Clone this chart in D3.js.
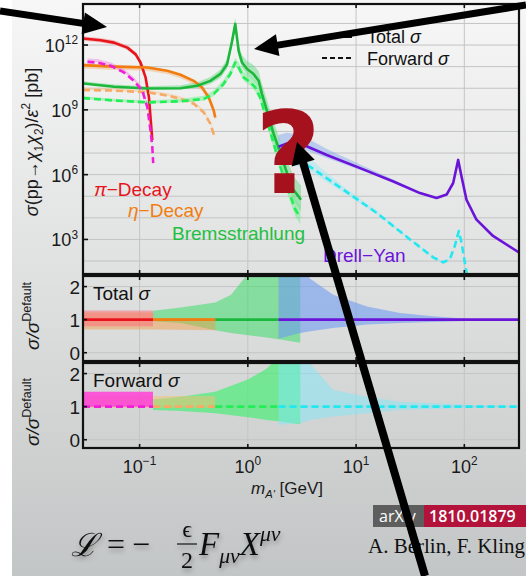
<!DOCTYPE html>
<html>
<head>
<meta charset="utf-8">
<script src="https://cdn.jsdelivr.net/npm/d3@7"></script>
<style>
  body { margin: 0; background: #fff; }
  svg { display: block; }
</style>
</head>
<body>
<svg id="chart" width="526" height="576"></svg>
<script>
// ---- data (mass in GeV, sigma/eps^2 in pb) ----
const piTotMass = [0.03, 0.0437, 0.058, 0.077, 0.092, 0.102, 0.1135, 0.122, 0.126, 0.131];
const piTotSigma = [2.0e12, 1.66e12, 1.29e12, 7.6e11, 3.7e11, 1.55e11, 3.2e10, 3.8e9, 4.7e8, 4.0e7];
const piFwdMass = [0.033, 0.0407, 0.054, 0.0717, 0.0886, 0.106, 0.118, 0.126, 0.131, 0.1336];
const piFwdSigma = [1.66e11, 1.55e11, 1.1e11, 5.4e10, 2.2e10, 7.8e9, 1.3e9, 1.15e8, 1.95e7, 3.4e6];

const etaTotMass = [0.03, 0.058, 0.118, 0.18, 0.239, 0.316, 0.378, 0.435, 0.484, 0.50];
const etaTotSigma = [1.17e11, 1.0e11, 9.1e10, 6.5e10, 4.2e10, 2.2e10, 1.1e10, 3.8e9, 9.3e8, 4.4e8];
const etaFwdMass = [0.03, 0.058, 0.118, 0.18, 0.239, 0.316, 0.39, 0.45, 0.493];
const etaFwdSigma = [8.3e9, 7.8e9, 6.5e9, 4.6e9, 3.2e9, 1.9e9, 7.8e8, 2.3e8, 5.6e7];

const bremTotMass = [0.03, 0.058, 0.118, 0.239, 0.34, 0.451, 0.558, 0.643, 0.715, 0.765, 0.823,
                     0.885, 0.984, 1.13, 1.26, 1.35, 1.5, 1.73, 2.0, 2.3, 2.64, 3.1];
const bremTotSigma = [1.66e10, 1.17e10, 9.8e9, 1.0e10, 1.3e10, 2.2e10, 4.6e10, 1.3e11, 1.5e12, 9.5e12, 5.2e11,
                      1.55e11, 7.8e10, 4.6e10, 2.2e10, 5.5e9, 9.3e8, 7.9e7, 9.8e6, 1.2e6, 2.0e5, 6.9e4];
const bremFwdMass = [0.03, 0.058, 0.118, 0.239, 0.392, 0.484, 0.598, 0.69, 0.765, 0.823,
                     0.914, 1.055, 1.17, 1.3, 1.5, 1.73, 2.0, 2.3, 2.74, 3.05];
const bremFwdSigma = [3.5e9, 2.7e9, 2.2e9, 2.5e9, 3.2e9, 5.5e9, 1.6e10, 4.6e10, 1.55e11, 9.1e10,
                      3.2e10, 1.9e10, 1.1e10, 3.8e9, 3.2e8, 2.8e7, 2.3e6, 2.8e5, 2.5e4, 1.05e4];

const dyTotMass = [1.92, 2.3, 3.05, 5.37, 10.9, 22.1, 38.9, 55.4, 68.6, 78.9, 87.7, 94.2, 104.7, 129, 184, 320];
const dyTotSigma = [1.95e7, 2.75e7, 2.75e7, 8.1e6, 2.0e6, 4.8e5, 1.4e5, 8.3e4, 1.2e5, 4.1e5, 4.8e6, 8.1e5, 6.9e4, 8.5e3, 1.45e3, 250];
const dyFwdMass = [1.92, 2.3, 2.64, 3.77, 7.64, 15.5, 31.5, 51.5, 63.8, 73.5, 81.7, 88.9, 94.2, 101, 106];
const dyFwdSigma = [1.4e7, 6.8e6, 5.8e6, 2.3e6, 2.0e5, 1.7e4, 1.0e3, 148, 87, 123, 500, 2450, 720, 87, 22];

// ratio sigma / sigma_default uncertainty bands
const piBandTotMass = [0.03, 0.133];
const piBandTotLo = [0.8, 0.8];
const piBandTotHi = [1.28, 1.28];
const etaBandTotMass = [0.03, 0.133, 0.135, 0.5];
const etaBandTotLo = [0.7, 0.7, 0.7, 0.68];
const etaBandTotHi = [1.22, 1.22, 1.05, 1.05];
const bremBandTotMass = [0.133, 0.24, 0.5, 0.7, 0.9, 1.2, 1.5, 2.0, 3.05];
const bremBandTotLo = [0.95, 0.9, 0.68, 0.6, 0.55, 0.5, 0.46, 0.4, 0.3];
const bremBandTotHi = [1.27, 1.37, 1.52, 1.75, 2.2, 2.7, 3.2, 3.8, 4.5];
const dyBandTotMass = [1.92, 3.05, 3.77, 6.14, 12.6, 25.4, 51, 105, 320];
const dyBandTotLo = [0.42, 0.6, 0.65, 0.75, 0.85, 0.9, 0.93, 0.96, 0.99];
const dyBandTotHi = [3.5, 2.6, 2.24, 1.75, 1.4, 1.2, 1.1, 1.03, 1.0];

const piBandFwdMass = [0.03, 0.133];
const piBandFwdLo = [1.0, 1.0];
const piBandFwdHi = [1.45, 1.45];
const etaBandFwdMass = [0.03, 0.5];
const etaBandFwdLo = [0.97, 0.97];
const etaBandFwdHi = [1.32, 1.32];
const bremBandFwdMass = [0.133, 0.24, 0.5, 1.0, 1.5, 2.0, 3.05];
const bremBandFwdLo = [0.9, 0.87, 0.8, 0.68, 0.6, 0.55, 0.47];
const bremBandFwdHi = [1.22, 1.3, 1.45, 1.82, 2.15, 2.6, 3.2];
const dyBandFwdMass = [1.92, 3.05, 3.77, 6.14, 12.6, 25.4, 51, 105, 320];
const dyBandFwdLo = [0.45, 0.5, 0.6, 0.7, 0.8, 0.9, 0.93, 0.97, 0.99];
const dyBandFwdHi = [3.2, 2.6, 2.3, 1.5, 1.3, 1.15, 1.1, 1.05, 1.02];

// production channels are joined at these masses in the ratio panels
const channelEdges = [0.03, 0.133, 0.5, 1.92, 320];

const xTicks = [0.1, 1, 10, 100];
const xTickExp = ["\u22121", "0", "1", "2"];
const yMainTickExp = [3, 6, 9, 12];
const ratioTicks = [0, 1, 2];

const colors = {
  pi: "#e8141c", piF: "#f01ed8",
  eta: "#f07d10", etaF: "#f5aa66",
  brem: "#1cb83c", bremF: "#22ee55",
  dy: "#6b14d9", dyF: "#22e8f0"
};

// ---- layout ----
const svg = d3.select("#chart");
const font = "'Liberation Sans', Arial, sans-serif";
const L = 83, R = 519;
const x = d3.scaleLog().domain([0.03, 320]).range([L, R]);
const yMain = d3.scaleLog().domain([Math.pow(10, 1.4), Math.pow(10, 13.9)]).range([274, 4]);
const yTot = d3.scaleLinear().domain([-0.25, 2.32]).range([361, 276]);
const yFwd = d3.scaleLinear().domain([-0.25, 2.32]).range([448, 363]);

// background slide
const defs = svg.append("defs");
const grad = defs.append("linearGradient").attr("id", "bg").attr("x1", 0).attr("y1", 0).attr("x2", 0).attr("y2", 1);
grad.append("stop").attr("offset", "0%").attr("stop-color", "#f7f7f7");
grad.append("stop").attr("offset", "55%").attr("stop-color", "#dcdddd");
grad.append("stop").attr("offset", "100%").attr("stop-color", "#c3c6c6");
svg.append("rect").attr("width", 526).attr("height", 576).attr("fill", "#ffffff");
svg.append("rect").attr("x", 12).attr("width", 514).attr("height", 576).attr("fill", "url(#bg)");

const shadow = defs.append("filter").attr("id", "shadow").attr("x", -0.2).attr("y", -0.2).attr("width", 1.4).attr("height", 1.6);
shadow.append("feGaussianBlur").attr("in", "SourceAlpha").attr("stdDeviation", 2.5).attr("result", "b");
shadow.append("feOffset").attr("in", "b").attr("dx", 1).attr("dy", 3).attr("result", "o");
shadow.append("feComponentTransfer").attr("in", "o").attr("result", "s")
  .append("feFuncA").attr("type", "linear").attr("slope", 0.35);
const merge = shadow.append("feMerge");
merge.append("feMergeNode").attr("in", "s");
merge.append("feMergeNode").attr("in", "SourceGraphic");

function clip(id, y0, y1) {
  defs.append("clipPath").attr("id", id).append("rect")
    .attr("x", L).attr("y", y0).attr("width", R - L).attr("height", y1 - y0);
}
clip("cMain", 4, 274);
clip("cTot", 276, 361);
clip("cFwd", 363, 448);

// rich text helper: parts = [text, mode(0 normal, 1 sup, -1 sub), italic]
function rich(sel, parts, size) {
  let shift = 0;
  parts.forEach(([txt, mode, it]) => {
    const target = mode === 1 ? -0.42 * size : mode === -1 ? 0.25 * size : 0;
    sel.append("tspan").attr("dy", target - shift)
      .attr("font-size", mode ? size * 0.66 : size)
      .attr("font-style", it ? "italic" : null)
      .text(txt);
    shift = target;
  });
  return sel;
}

// ---- grids ----
const grid = svg.append("g").attr("stroke", "#c4c4c4").attr("stroke-width", 1).attr("fill", "none");
d3.range(2, 14).forEach(e => {
  grid.append("line").attr("x1", L).attr("x2", R).attr("y1", yMain(Math.pow(10, e))).attr("y2", yMain(Math.pow(10, e)));
});
[yTot, yFwd].forEach(s => ratioTicks.forEach(v => {
  grid.append("line").attr("x1", L).attr("x2", R).attr("y1", s(v)).attr("y2", s(v));
}));
xTicks.forEach(t => {
  grid.append("line").attr("x1", x(t)).attr("x2", x(t)).attr("y1", 4).attr("y2", 448);
});

// ---- bands & curves in main panel ----
function bandFactor(mass, lo, hi) {
  const base = d3.scaleLog().domain(mass).clamp(true);
  return m => [base.copy().range(lo)(m), base.copy().range(hi)(m)];
}

const mainSeries = [
  { m: piTotMass, s: piTotSigma, c: colors.pi, dash: null, band: bandFactor(piBandTotMass, piBandTotLo, piBandTotHi), bc: "#f08080" },
  { m: etaTotMass, s: etaTotSigma, c: colors.eta, dash: null, band: bandFactor(etaBandTotMass, etaBandTotLo, etaBandTotHi), bc: "#f5b070" },
  { m: bremTotMass, s: bremTotSigma, c: colors.brem, dash: null, band: bandFactor(bremBandTotMass, bremBandTotLo, bremBandTotHi), bc: "#5ad878" },
  { m: dyTotMass, s: dyTotSigma, c: colors.dy, dash: null, band: bandFactor(dyBandTotMass, dyBandTotLo, dyBandTotHi), bc: "#7fa6f0" },
  { m: etaFwdMass, s: etaFwdSigma, c: colors.etaF, dash: "7,4", band: bandFactor(etaBandFwdMass, etaBandFwdLo, etaBandFwdHi), bc: "#f5c890" },
  { m: bremFwdMass, s: bremFwdSigma, c: colors.bremF, dash: "7,4", band: bandFactor(bremBandFwdMass, bremBandFwdLo, bremBandFwdHi), bc: "#60f080" },
  { m: dyFwdMass, s: dyFwdSigma, c: colors.dyF, dash: "7,4", band: bandFactor(dyBandFwdMass, dyBandFwdLo, dyBandFwdHi), bc: "#9ee8f4" },
  { m: piFwdMass, s: piFwdSigma, c: colors.piF, dash: "7,4", band: bandFactor(piBandFwdMass, piBandFwdLo, piBandFwdHi), bc: "#f080e0" }
];

const gMain = svg.append("g").attr("clip-path", "url(#cMain)");
mainSeries.forEach(sr => {
  const pts = sr.m.map((m, i) => ({ m, v: sr.s[i], f: sr.band(m) }));
  gMain.append("path").datum(pts)
    .attr("fill", sr.bc).attr("fill-opacity", 0.45)
    .attr("d", d3.area().x(d => x(d.m)).y0(d => yMain(d.v * d.f[0])).y1(d => yMain(d.v * d.f[1])));
});
mainSeries.forEach(sr => {
  gMain.append("path").datum(sr.m.map((m, i) => [m, sr.s[i]]))
    .attr("fill", "none").attr("stroke", sr.c).attr("stroke-width", 2.6)
    .attr("stroke-dasharray", sr.dash).attr("stroke-linejoin", "round")
    .attr("d", d3.line().x(d => x(d[0])).y(d => yMain(d[1])));
});

// ---- ratio panels ----
function ratioPanel(clipId, ys, bands, lineColors, dash) {
  const g = svg.append("g").attr("clip-path", `url(#${clipId})`);
  bands.forEach(b => {
    g.append("path").datum(b.m.map((m, i) => [m, b.lo[i], b.hi[i]]))
      .attr("fill", b.c).attr("fill-opacity", b.op)
      .attr("d", d3.area().x(d => x(d[0])).y0(d => ys(d[1])).y1(d => ys(d[2])));
  });
  lineColors.forEach((c, i) => {
    g.append("line")
      .attr("x1", x(channelEdges[i])).attr("x2", x(channelEdges[i + 1]))
      .attr("y1", ys(1)).attr("y2", ys(1))
      .attr("stroke", c).attr("stroke-width", 2.6).attr("stroke-dasharray", dash);
  });
}

ratioPanel("cTot", yTot, [
  { m: bremBandTotMass, lo: bremBandTotLo, hi: bremBandTotHi, c: "#3ddc6a", op: 0.55 },
  { m: dyBandTotMass, lo: dyBandTotLo, hi: dyBandTotHi, c: "#6f9cf0", op: 0.6 },
  { m: etaBandTotMass, lo: etaBandTotLo, hi: etaBandTotHi, c: "#f59a40", op: 0.45 },
  { m: piBandTotMass, lo: piBandTotLo, hi: piBandTotHi, c: "#ff6070", op: 0.45 }
], [colors.pi, colors.eta, colors.brem, colors.dy], null);

ratioPanel("cFwd", yFwd, [
  { m: bremBandFwdMass, lo: bremBandFwdLo, hi: bremBandFwdHi, c: "#40f070", op: 0.65 },
  { m: dyBandFwdMass, lo: dyBandFwdLo, hi: dyBandFwdHi, c: "#80e8f8", op: 0.5 },
  { m: etaBandFwdMass, lo: etaBandFwdLo, hi: etaBandFwdHi, c: "#f5c070", op: 0.5 },
  { m: piBandFwdMass, lo: piBandFwdLo, hi: piBandFwdHi, c: "#ff40d8", op: 0.85 }
], [colors.piF, colors.etaF, colors.bremF, colors.dyF], "7,4");

// ---- frames & ticks ----
const frames = [[4, 274], [276, 361], [363, 448]];
frames.forEach(([y0, y1]) => {
  svg.append("rect").attr("x", L).attr("y", y0).attr("width", R - L).attr("height", y1 - y0)
    .attr("fill", "none").attr("stroke", "#111").attr("stroke-width", 2.2);
  xTicks.forEach(t => {
    svg.append("line").attr("x1", x(t)).attr("x2", x(t)).attr("y1", y0).attr("y2", y0 + 4).attr("stroke", "#111").attr("stroke-width", 1.6);
    svg.append("line").attr("x1", x(t)).attr("x2", x(t)).attr("y1", y1).attr("y2", y1 - 4).attr("stroke", "#111").attr("stroke-width", 1.6);
  });
});

yMainTickExp.forEach(e => {
  const yy = yMain(Math.pow(10, e));
  svg.append("line").attr("x1", L).attr("x2", L + 5).attr("y1", yy).attr("y2", yy).attr("stroke", "#111").attr("stroke-width", 1.6);
  const t = svg.append("text").attr("x", 78).attr("y", yy + 7).attr("text-anchor", "end")
    .attr("font-family", font).attr("fill", "#1a1a1a");
  rich(t, [["10", 0], [String(e), 1]], 18);
});
[yTot, yFwd].forEach(s => ratioTicks.forEach(v => {
  svg.append("line").attr("x1", L).attr("x2", L + 4).attr("y1", s(v)).attr("y2", s(v)).attr("stroke", "#111").attr("stroke-width", 1.6);
  svg.append("text").attr("x", 80).attr("y", s(v) + 7).attr("text-anchor", "end")
    .attr("font-family", font).attr("font-size", 19).attr("fill", "#1a1a1a").text(v);
}));

xTicks.forEach((t, i) => {
  const lbl = svg.append("text").attr("x", x(t)).attr("y", 473).attr("text-anchor", "middle")
    .attr("font-family", font).attr("fill", "#1a1a1a");
  rich(lbl, [["10", 0], [xTickExp[i], 1]], 18);
});

// axis titles
const xt = svg.append("text").attr("x", 287).attr("y", 494).attr("text-anchor", "middle")
  .attr("font-family", font).attr("fill", "#1a1a1a");
rich(xt, [["m", 0, true], ["A'", -1, true], [" [GeV]", 0]], 17);

const yt = svg.append("text").attr("transform", "translate(38,142) rotate(-90)").attr("text-anchor", "middle")
  .attr("font-family", font).attr("fill", "#1a1a1a");
rich(yt, [["\u03c3", 0, true], ["(pp\u2192", 0], ["\u03c7", 0, true], ["1", -1], ["\u03c7", 0, true], ["2", -1],
  [")/", 0], ["\u03b5", 0, true], ["2", 1], [" [pb]", 0]], 18);

[316, 412].forEach(cy => {
  const t = svg.append("text").attr("transform", `translate(39,${cy}) rotate(-90)`).attr("text-anchor", "middle")
    .attr("font-family", font).attr("fill", "#1a1a1a");
  rich(t, [["\u03c3/\u03c3", 0, true], ["Default", 1]], 19);
});

// panel titles
[[300, "Total "], [387, "Forward "]].forEach(([yy, w]) => {
  const t = svg.append("text").attr("x", 93).attr("y", yy).attr("font-family", font).attr("fill", "#111");
  rich(t, [[w, 0], ["\u03c3", 0, true]], 19);
});

// curve labels
[["\u03c0", "\u2212Decay", colors.pi, 94, 196],
 ["\u03b7", "\u2212Decay", colors.eta, 128, 217],
 ["", "Bremsstrahlung", "#22c040", 172, 240],
 ["", "Drell\u2212Yan", colors.dy, 323, 262]].forEach(([g, rest, c, xx, yy]) => {
  const t = svg.append("text").attr("x", xx).attr("y", yy).attr("font-family", font).attr("fill", c);
  rich(t, [[g, 0, true], [rest, 0]], 19);
});

// legend
svg.append("line").attr("x1", 322).attr("x2", 352).attr("y1", 37).attr("y2", 37).attr("stroke", "#111").attr("stroke-width", 2);
svg.append("line").attr("x1", 322).attr("x2", 352).attr("y1", 58).attr("y2", 58).attr("stroke", "#111").attr("stroke-width", 2).attr("stroke-dasharray", "5,3");
[[43, "Total "], [65, "Forward "]].forEach(([yy, w]) => {
  const t = svg.append("text").attr("x", 367).attr("y", yy).attr("font-family", font).attr("fill", "#111");
  rich(t, [[w, 0], ["\u03c3", 0, true]], 18);
});

// ---- annotations ----
svg.append("text").attr("x", 288).attr("y", 193).attr("text-anchor", "middle")
  .attr("font-family", "'DejaVu Sans', sans-serif").attr("font-weight", "bold")
  .attr("font-size", 114).attr("fill", "#a5121e").text("?");

function arrow(x0, y0, x1, y1, w, hl, hw) {
  const dx = x1 - x0, dy = y1 - y0, len = Math.hypot(dx, dy), ux = dx / len, uy = dy / len;
  const bx = x1 - ux * hl, by = y1 - uy * hl;
  svg.append("line").attr("x1", x0).attr("y1", y0).attr("x2", bx + ux * 3).attr("y2", by + uy * 3)
    .attr("stroke", "#000").attr("stroke-width", w);
  svg.append("path").attr("fill", "#000")
    .attr("d", `M${x1},${y1}L${bx - uy * hw},${by + ux * hw}L${bx + uy * hw},${by - ux * hw}Z`);
}
arrow(0, 11, 107, 27, 7, 24, 11);
arrow(526, 5, 254, 49, 7, 24, 11);

// formula
const serif = "'Liberation Serif', 'DejaVu Serif', serif";
const fg = svg.append("g").attr("fill", "#111").attr("filter", "url(#shadow)");
fg.append("text").attr("x", 71).attr("y", 556).attr("font-family", "'DejaVu Serif', serif")
  .attr("font-size", 32).attr("font-style", "italic").text("\u2112");
fg.append("text").attr("x", 107).attr("y", 555).attr("font-family", serif).attr("font-size", 32).text("=");
fg.append("text").attr("x", 132).attr("y", 555).attr("font-family", serif).attr("font-size", 32).text("\u2212");
fg.append("text").attr("x", 187).attr("y", 537).attr("font-family", serif).attr("font-size", 24)
  .attr("text-anchor", "middle").text("\u03f5");
fg.append("line").attr("x1", 177).attr("x2", 197).attr("y1", 544).attr("y2", 544).attr("stroke", "#111").attr("stroke-width", 1.2);
fg.append("text").attr("x", 187).attr("y", 568).attr("font-family", serif).attr("font-size", 24)
  .attr("text-anchor", "middle").text("2");
const ff = fg.append("text").attr("x", 199).attr("y", 555).attr("font-family", serif).attr("font-style", "italic");
rich(ff, [["F", 0], ["\u03bc\u03bd", -1], ["X", 0], ["\u03bc\u03bd", 1]], 33);

// arXiv badge
svg.append("rect").attr("x", 373).attr("y", 505).attr("width", 51).attr("height", 22).attr("fill", "#5e5e5e");
svg.append("rect").attr("x", 424).attr("y", 505).attr("width", 102).attr("height", 22).attr("fill", "#b3123a");
svg.append("text").attr("x", 379).attr("y", 522).attr("font-family", "'Open Sans', sans-serif").attr("font-size", 16)
  .attr("fill", "#fff").text("arXiv");
svg.append("text").attr("x", 429).attr("y", 522).attr("font-family", "'Open Sans', sans-serif").attr("font-size", 16)
  .attr("font-weight", 600).attr("fill", "#fff").text("1810.01879");
svg.append("text").attr("x", 368).attr("y", 553).attr("font-family", "'Liberation Serif', serif").attr("font-size", 21)
  .attr("fill", "#111").text("A. Berlin, F. Kling");

// the long arrow passes over the question mark and the badge
arrow(425, 576, 297, 142, 8, 22, 12);
</script>
</body>
</html>
